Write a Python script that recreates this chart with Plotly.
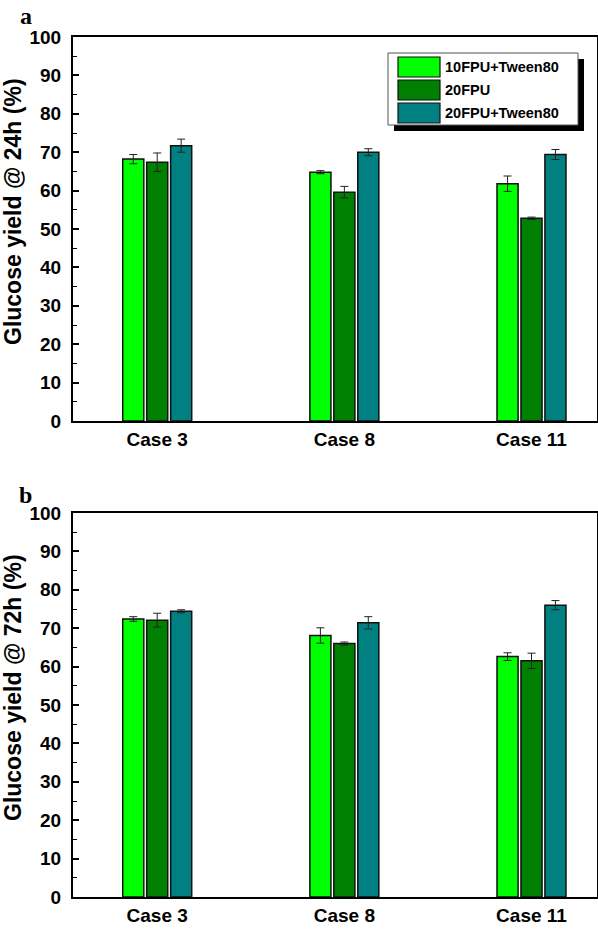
import plotly.graph_objects as go
from plotly.subplots import make_subplots

categories = ["Case 3", "Case 8", "Case 11"]
series_names = ["10FPU+Tween80", "20FPU", "20FPU+Tween80"]
colors = ["#00FF00", "#008000", "#008080"]

# Panel a: 24h
yield_24h_10fpu_tween = [68.2, 64.8, 61.8]
yield_24h_20fpu = [67.4, 59.6, 52.8]
yield_24h_20fpu_tween = [71.7, 70.0, 69.4]
err_24h_10fpu_tween = [1.2, 0.4, 2.0]
err_24h_20fpu = [2.4, 1.5, 0.3]
err_24h_20fpu_tween = [1.7, 0.9, 1.3]

# Panel b: 72h
yield_72h_10fpu_tween = [72.4, 68.1, 62.6]
yield_72h_20fpu = [72.1, 66.0, 61.5]
yield_72h_20fpu_tween = [74.4, 71.4, 76.0]
err_72h_10fpu_tween = [0.6, 2.0, 1.0]
err_72h_20fpu = [1.8, 0.4, 2.0]
err_72h_20fpu_tween = [0.4, 1.6, 1.2]

y_ticks = [0, 10, 20, 30, 40, 50, 60, 70, 80, 90, 100]
y_titles = ["Glucose yield @ 24h (%)", "Glucose yield @ 72h (%)"]
panel_letters = ["a", "b"]

W, H = 598, 929

def px(x):
    return x / W

def py(y):
    return 1 - y / H

fig = make_subplots(rows=2, cols=1)

panels = [
    ([yield_24h_10fpu_tween, yield_24h_20fpu, yield_24h_20fpu_tween],
     [err_24h_10fpu_tween, err_24h_20fpu, err_24h_20fpu_tween]),
    ([yield_72h_10fpu_tween, yield_72h_20fpu, yield_72h_20fpu_tween],
     [err_72h_10fpu_tween, err_72h_20fpu, err_72h_20fpu_tween]),
]

for r, (vals, errs) in enumerate(panels, start=1):
    for name, color, v, e in zip(series_names, colors, vals, errs):
        fig.add_trace(
            go.Bar(
                x=categories, y=v, name=name, showlegend=False,
                marker=dict(color=color, line=dict(color="#111111", width=1.5)),
                error_y=dict(type="data", array=e, color="#222222", thickness=1, width=4),
            ),
            row=r, col=1,
        )

SANS = "Liberation Sans, Arial, sans-serif"

domains_y = [[py(421), py(37)], [py(897), py(513)]]
for i in range(2):
    ax_suffix = "" if i == 0 else str(i + 1)
    fig.update_layout(**{
        "xaxis" + ax_suffix: dict(
            domain=[px(73), px(597)], type="category", range=[-0.45, 2.35],
            showline=True, linecolor="black", linewidth=2, mirror=True,
            ticks="", ticklabelstandoff=0, automargin=False,
            tickfont=dict(family=SANS, size=19, color="black", weight="bold"),
            showgrid=False, zeroline=False, fixedrange=True,
        ),
        "yaxis" + ax_suffix: dict(
            domain=domains_y[i], range=[0, 100], tickvals=y_ticks,
            showline=True, linecolor="black", linewidth=2, mirror=True,
            ticks="inside", ticklen=6, tickwidth=1.5, tickcolor="black",
            minor=dict(ticks="inside", dtick=5, ticklen=4, tickwidth=1.2, tickcolor="black"),
            ticklabelstandoff=6, automargin=False,
            tickfont=dict(family=SANS, size=19, color="black", weight="bold"),
            showgrid=False, zeroline=False, fixedrange=True,
        ),
    })

# Y-axis titles (as rotated annotations, positioned as in the reference)
title_pos = [(13, 212), (13, 688)]
for t, (tx, ty) in zip(y_titles, title_pos):
    fig.add_annotation(
        x=px(tx), y=py(ty), xref="paper", yref="paper", text=t, showarrow=False,
        textangle=-90, xanchor="center", yanchor="middle",
        font=dict(family=SANS, size=23, color="black", weight="bold"),
    )

# Panel letters
letter_pos = [(26, 16), (25, 495)]
for letter, (lx, ly) in zip(panel_letters, letter_pos):
    fig.add_annotation(
        x=px(lx), y=py(ly), xref="paper", yref="paper", text=letter, showarrow=False,
        font=dict(family="Liberation Serif, Times New Roman, serif", size=24, color="black", weight="bold"),
        xanchor="center", yanchor="middle",
    )

# Custom legend (panel a) with drop shadow
shapes = []
shapes.append(dict(type="rect", xref="paper", yref="paper",
                   x0=px(394), x1=px(584), y0=py(131), y1=py(59),
                   fillcolor="black", line=dict(width=0), layer="above"))
shapes.append(dict(type="rect", xref="paper", yref="paper",
                   x0=px(388), x1=px(578), y0=py(125), y1=py(53),
                   fillcolor="white", line=dict(color="#555555", width=1), layer="above"))
row_tops = [57, 80, 103]
for name, color, top in zip(series_names, colors, row_tops):
    shapes.append(dict(type="rect", xref="paper", yref="paper",
                       x0=px(398), x1=px(440), y0=py(top + 20), y1=py(top),
                       fillcolor=color, line=dict(color="#111111", width=1.2), layer="above"))
    fig.add_annotation(
        x=px(443), y=py(top + 10), xref="paper", yref="paper", text=name, showarrow=False,
        xanchor="left", yanchor="middle",
        font=dict(family=SANS, size=14.5, color="black", weight="bold"),
    )

fig.update_layout(
    width=W, height=H,
    margin=dict(l=0, r=0, t=0, b=0, autoexpand=False),
    paper_bgcolor="white", plot_bgcolor="white",
    barmode="group", bargap=0.616, bargroupgap=0.12,
    shapes=shapes,
)

fig.write_html(
    "out.html",
    config={"displayModeBar": False},
    post_script="document.body.style.margin='0';document.body.style.overflow='hidden';",
)
